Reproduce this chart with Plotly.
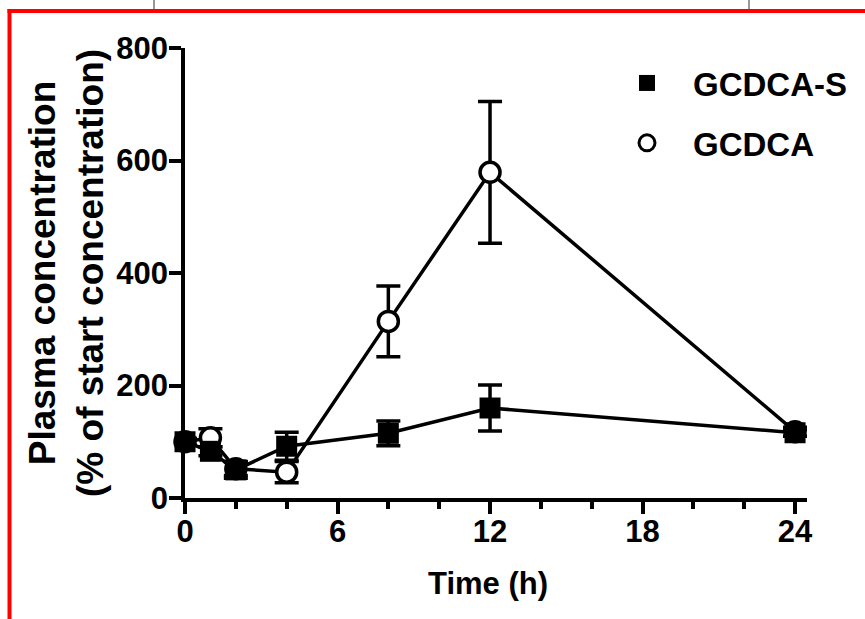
import plotly.graph_objects as go

# ---------------- data ----------------
time_h = [0, 1, 2, 4, 8, 12, 24]
gcdca_s = [100, 83, 50, 92, 115, 160, 116]
gcdca_s_err = [6, 8, 15, 25, 22, 41, 6]
gcdca = [100, 107, 52, 46, 314, 579, 118]
gcdca_err = [6, 16, 12, 19, 63, 126, 8]
series_names = ["GCDCA-S", "GCDCA"]
x_ticks = [0, 6, 12, 18, 24]
y_ticks = [0, 200, 400, 600, 800]
x_title = "Time (h)"
y_title = "Plasma concentration<br>(% of start concentration)"

# ---------------- layout constants ----------------
W, H = 865, 619
ML, MR, MT, MB = 185, 58, 48, 121
PW, PH = W - ML - MR, H - MT - MB
FONT = "Arial, Liberation Sans, sans-serif"
LW = 3.5


def px_x(p):
    return (p - ML) / PW


def px_y(p):
    return (H - MB - p) / PH


fig = go.Figure()

# GCDCA (open circles) drawn first, GCDCA-S (filled squares) on top
fig.add_trace(go.Scatter(
    x=time_h, y=gcdca, mode="lines+markers", name=series_names[1], showlegend=False,
    line=dict(color="black", width=LW),
    marker=dict(symbol="circle", size=20, color="white", line=dict(color="black", width=LW)),
    error_y=dict(type="data", array=gcdca_err, visible=True, color="black", thickness=LW, width=12),
    cliponaxis=False,
))
fig.add_trace(go.Scatter(
    x=time_h, y=gcdca_s, mode="lines+markers", name=series_names[0], showlegend=False,
    line=dict(color="black", width=LW),
    marker=dict(symbol="square", size=21, color="black", line=dict(width=0)),
    error_y=dict(type="data", array=gcdca_s_err, visible=True, color="black", thickness=LW, width=12),
    cliponaxis=False,
))

# legend entries (symbols only, as in the original)
fig.add_trace(go.Scatter(
    x=[None], y=[None], mode="markers", name=series_names[0], legendgroup="a",
    marker=dict(symbol="square", size=20, color="black", line=dict(width=0)),
))
fig.add_trace(go.Scatter(
    x=[None], y=[None], mode="markers", name=series_names[1], legendgroup="b",
    marker=dict(symbol="circle", size=19, color="white", line=dict(color="black", width=3)),
))

axis_common = dict(
    showline=True, linecolor="black", linewidth=LW,
    ticks="outside", ticklen=12, tickwidth=LW, tickcolor="black",
    showgrid=False, zeroline=False,
    tickfont=dict(family=FONT, size=31, color="black", weight="bold"),
)

fig.update_xaxes(
    range=[0, 24.47], tickmode="array", tickvals=x_ticks, ticktext=[str(v) for v in x_ticks],
    minor=dict(tick0=0, dtick=2, ticks="outside", ticklen=7, tickwidth=LW, tickcolor="black", showgrid=False),
    ticklabelstandoff=-9,
    **axis_common,
)
fig.update_yaxes(
    range=[0, 800], tickmode="array", tickvals=y_ticks, ticktext=[str(v) for v in y_ticks],
    ticklabelstandoff=-5,
    title=dict(text=y_title, standoff=2, font=dict(family=FONT, size=37, color="black", weight="bold")),
    **axis_common,
)

# decorative crop frame and fragments from the original figure
shapes = [
    dict(type="line", xref="paper", yref="paper", x0=px_x(9.5), x1=px_x(9.5), y0=px_y(9), y1=px_y(H + 5),
         line=dict(color="#ff0000", width=4)),
    dict(type="line", xref="paper", yref="paper", x0=px_x(7.5), x1=px_x(W + 5), y0=px_y(11), y1=px_y(11),
         line=dict(color="#ff0000", width=4)),
    dict(type="line", xref="paper", yref="paper", x0=px_x(154), x1=px_x(154), y0=px_y(0), y1=px_y(9),
         line=dict(color="#999999", width=2)),
    dict(type="line", xref="paper", yref="paper", x0=px_x(749), x1=px_x(749), y0=px_y(0), y1=px_y(9),
         line=dict(color="#999999", width=2)),
]

fig.update_layout(
    width=W, height=H,
    margin=dict(l=ML, r=MR, t=MT, b=MB, autoexpand=False),
    paper_bgcolor="white", plot_bgcolor="white",
    font=dict(family=FONT, color="black"),
    showlegend=True,
    legend=dict(
        x=px_x(601), y=px_y(55), xanchor="left", yanchor="top",
        bgcolor="rgba(0,0,0,0)", borderwidth=0,
        font=dict(family=FONT, size=33, color="black", weight="bold"),
        itemwidth=82, tracegroupgap=14,
    ),
    annotations=[dict(
        text=x_title, xref="paper", yref="paper", x=px_x(488), y=px_y(583),
        xanchor="center", yanchor="middle", showarrow=False,
        font=dict(family=FONT, size=31, color="black", weight="bold"),
    )],
    shapes=shapes,
)

fig.write_html(
    "out.html",
    config={"displayModeBar": False},
    post_script="document.body.style.margin='0px';",
)
